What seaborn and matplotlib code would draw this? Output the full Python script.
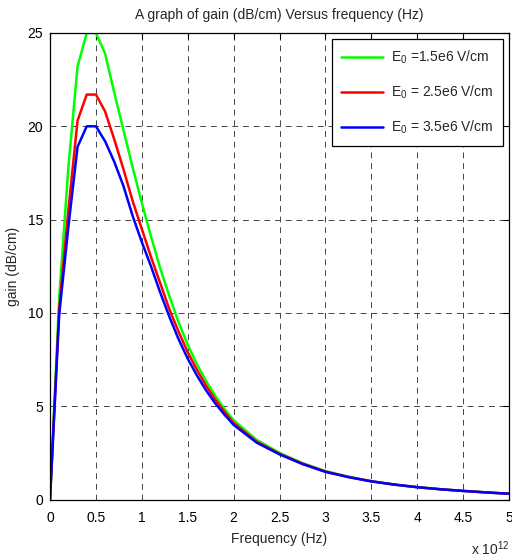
import numpy as np
import pandas as pd
import matplotlib
matplotlib.use("Agg")
import matplotlib.pyplot as plt
import seaborn as sns

# ---------------------------------------------------------------------------
# DATA  (frequency in units of 1e12 Hz, gain in dB/cm)
# ---------------------------------------------------------------------------
freq = [0.0, 0.1, 0.2, 0.3, 0.4, 0.5, 0.6, 0.7, 0.8, 0.9, 1.0,
        1.1, 1.2, 1.3, 1.4, 1.5, 1.6, 1.7, 1.8, 1.9, 2.0,
        2.25, 2.5, 2.75, 3.0, 3.25, 3.5, 3.75, 4.0, 4.25, 4.5, 4.75, 5.0]

gain_e15 = [0.0, 10.8, 17.8, 23.2, 25.0, 25.0, 23.9, 21.8, 19.8, 17.8, 15.9,
            14.1, 12.4, 10.9, 9.5, 8.3, 7.25, 6.35, 5.55, 4.85, 4.25,
            3.2, 2.5, 1.95, 1.52, 1.22, 0.98, 0.80, 0.66, 0.55, 0.46, 0.38, 0.31]

gain_e25 = [0.0, 10.2, 15.5, 20.3, 21.7, 21.7, 20.8, 19.3, 17.7, 16.0, 14.5,
            13.0, 11.6, 10.2, 9.0, 7.9, 6.95, 6.1, 5.35, 4.7, 4.1,
            3.1, 2.45, 1.92, 1.5, 1.21, 0.98, 0.80, 0.66, 0.55, 0.46, 0.38, 0.31]

gain_e35 = [0.0, 9.9, 14.6, 18.9, 20.0, 20.0, 19.2, 18.1, 16.8, 15.2, 13.8,
            12.5, 11.1, 9.8, 8.6, 7.55, 6.65, 5.85, 5.15, 4.55, 4.0,
            3.05, 2.42, 1.9, 1.48, 1.2, 0.97, 0.80, 0.66, 0.55, 0.46, 0.38, 0.31]

labels = [r"E$_{\mathregular{0}}$ =1.5e6 V/cm",
          r"E$_{\mathregular{0}}$ = 2.5e6 V/cm",
          r"E$_{\mathregular{0}}$ = 3.5e6 V/cm"]
colors = ["#00FF00", "#FF0000", "#0000FF"]

xticks = [0, 0.5, 1, 1.5, 2, 2.5, 3, 3.5, 4, 4.5, 5]
xticklabels = ["0", "0.5", "1", "1.5", "2", "2.5", "3", "3.5", "4", "4.5", "5"]
yticks = [0, 5, 10, 15, 20, 25]

# long-form table for seaborn
df = pd.concat([
    pd.DataFrame({"freq": freq, "gain": g, "series": lab})
    for g, lab in zip([gain_e15, gain_e25, gain_e35], labels)
], ignore_index=True)

# ---------------------------------------------------------------------------
# PLOT
# ---------------------------------------------------------------------------
sns.set_style("white")
plt.rcParams["font.family"] = ["Liberation Sans", "DejaVu Sans"]
plt.rcParams["mathtext.fontset"] = "custom"
plt.rcParams["mathtext.rm"] = "Liberation Sans"

fig = plt.figure(figsize=(5.12, 5.59), dpi=100)
ax = fig.add_axes([50 / 512, 1 - 499.5 / 559, 459 / 512, 466.5 / 559])

sns.lineplot(data=df, x="freq", y="gain", hue="series", hue_order=labels,
             palette=colors, sort=False, estimator=None, linewidth=1.8,
             ax=ax, legend=True)

ax.set_xlim(0, 5)
ax.set_ylim(0, 25)
ax.set_xticks(xticks)
ax.set_xticklabels(xticklabels)
ax.set_yticks(yticks)
ax.tick_params(direction="in", length=4, width=0.8, top=True, right=True,
               labelsize=10, colors="black", pad=5)
ax.tick_params(axis="x", pad=8)
ax.grid(True, color="#444444", linestyle=(0, (6, 5)), linewidth=0.7)
for s in ax.spines.values():
    s.set_color("black")
    s.set_linewidth(0.9)

ax.set_title("A graph of gain (dB/cm) Versus frequency (Hz)", fontsize=10, pad=10)
ax.set_xlabel("Frequency (Hz)", fontsize=10, labelpad=5)
ax.set_ylabel("gain (dB/cm)", fontsize=10, labelpad=5)
fig.text(471 / 512, 1 - 549 / 559, r"x 10$^{\mathregular{12}}$", fontsize=10,
         ha="left", va="center")

handles, labs = ax.get_legend_handles_labels()
leg = ax.legend(handles, labs, loc="upper right", fontsize=10, frameon=True,
                fancybox=False, edgecolor="black", framealpha=1,
                handlelength=3.0, labelspacing=1.25, borderpad=0.7,
                handletextpad=0.55, borderaxespad=0.45)
leg.get_frame().set_linewidth(0.9)

fig.savefig("out.png", dpi=100)
